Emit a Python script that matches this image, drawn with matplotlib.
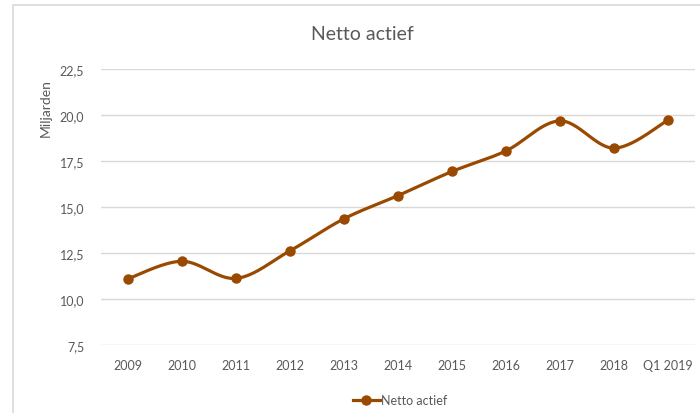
import numpy as np
import matplotlib
matplotlib.use("Agg")
import matplotlib.pyplot as plt
from matplotlib.lines import Line2D

plt.rcParams['font.family'] = ['Lato', 'DejaVu Sans']

# Data
labels = ['2009', '2010', '2011', '2012', '2013', '2014', '2015', '2016', '2017', '2018', 'Q1 2019']
values = [11.1, 12.05, 11.12, 12.62, 14.36, 15.62, 16.93, 18.05, 19.68, 18.2, 19.72]
yticks = [7.5, 10.0, 12.5, 15.0, 17.5, 20.0, 22.5]

color = '#9A4A00'
grey = '#595959'


def smooth(x, y, n=30):
    # Catmull-Rom style smoothing like Excel's "smoothed line"
    x = np.asarray(x, float)
    y = np.asarray(y, float)
    px = np.concatenate([[x[0]], x, [x[-1]]])
    py = np.concatenate([[y[0]], y, [y[-1]]])
    xs, ys = [], []
    t = np.linspace(0, 1, n)
    for i in range(1, len(px) - 2):
        p0, p1, p2, p3 = (np.array([px[j], py[j]]) for j in range(i - 1, i + 3))
        c1 = p1 + (p2 - p0) / 6
        c2 = p2 - (p3 - p1) / 6
        b = ((1 - t) ** 3)[:, None] * p1 + (3 * (1 - t) ** 2 * t)[:, None] * c1 \
            + (3 * (1 - t) * t ** 2)[:, None] * c2 + (t ** 3)[:, None] * p2
        xs.extend(b[:, 0])
        ys.extend(b[:, 1])
    return xs, ys


fig = plt.figure(figsize=(7.0, 4.14), dpi=100)
ax = fig.add_axes([101 / 700, 1 - 346 / 414, 594 / 700, 276 / 414])

x = np.arange(len(labels))
sx, sy = smooth(x, values)
ax.plot(sx, sy, color=color, lw=2.3, solid_capstyle='round', zorder=3)
ax.plot(x, values, 'o', color=color, ms=6.5, zorder=4)
# legend proxy
ax.plot([], [], '-o', color=color, lw=2.3, ms=6.5, label='Netto actief')

ax.set_xlim(-0.5, len(labels) - 0.5)
ax.set_ylim(7.5, 22.5)
ax.set_yticks(yticks)
ax.set_yticklabels([f'{v:.1f}'.replace('.', ',') for v in yticks])
ax.set_xticks(x)
ax.set_xticklabels(labels)
ax.grid(axis='y', color='#d9d9d9', lw=1)
ax.set_axisbelow(True)
for s in ax.spines.values():
    s.set_visible(False)
ax.tick_params(length=0, colors=grey, labelsize=9, pad=10)
ax.tick_params(axis='y', pad=12)

fig.text(362 / 700, 1 - 35 / 414, 'Netto actief', ha='center', va='center',
         fontsize=14, color=grey)
fig.text(46 / 700, 1 - 108 / 414, 'Miljarden', ha='center', va='center',
         rotation=90, fontsize=10, color=grey)

leg = fig.legend(loc='center', bbox_to_anchor=(400 / 700, 1 - 401 / 414), frameon=False,
                 fontsize=9, handlelength=2.2, handletextpad=0.1, labelcolor=grey)

# chart border: only top and left edges visible in the crop
fig.lines.append(Line2D([12.5 / 700, 12.5 / 700, 1], [0, 1 - 6 / 414, 1 - 6 / 414],
                        transform=fig.transFigure, color='#d9d9d9', lw=1.2))

fig.savefig('out.png', dpi=100)
